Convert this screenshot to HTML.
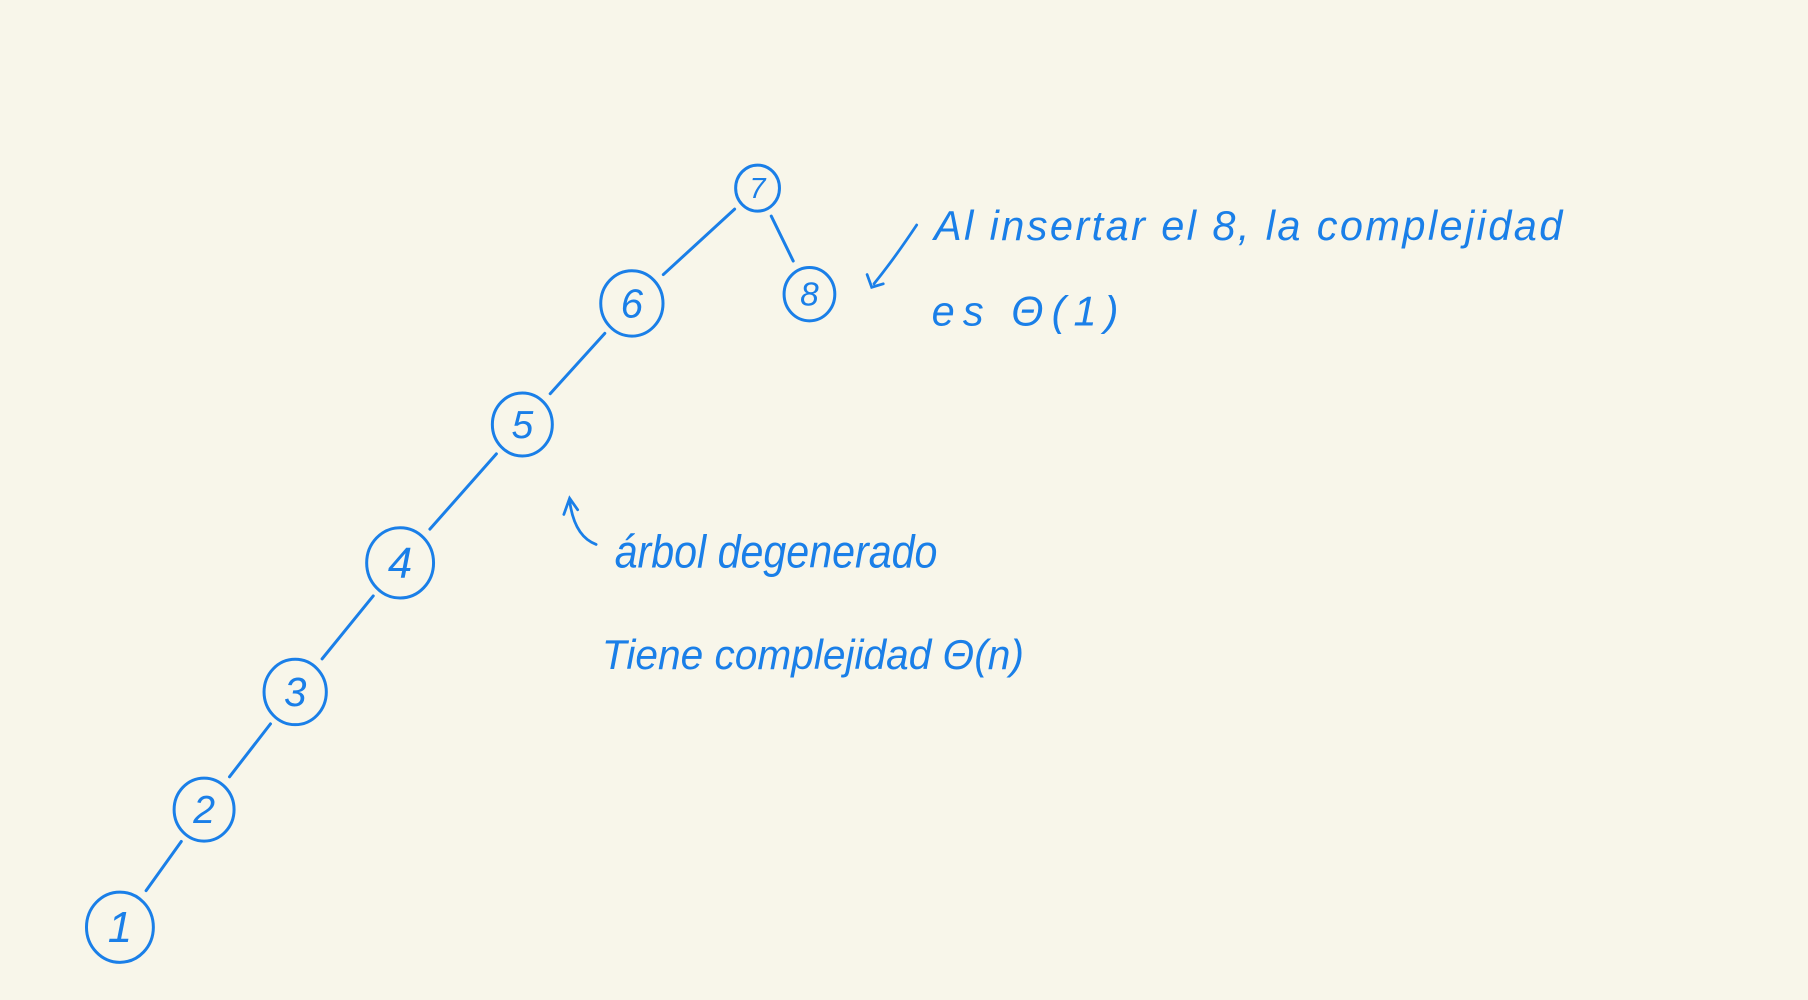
<!DOCTYPE html>
<html><head><meta charset="utf-8">
<style>
html,body{margin:0;padding:0;background:#f8f6ea;}
svg{display:block;}
text{font-family:"Liberation Sans",sans-serif;fill:#1a7fe8;font-style:italic;}
</style></head>
<body>
<svg width="1808" height="1000" viewBox="0 0 1568 867">
<rect width="1568" height="867" fill="#f8f6ea"/>
<g id="tree" stroke="#1a7fe8" stroke-width="2.6" fill="none" stroke-linecap="round"></g>
<g>
<path d="M795 195 Q775 225 758 246 M752 238 L756 249 L766 246" stroke="#1a7fe8" stroke-width="2.4" fill="none" stroke-linecap="round"/>
<text x="810" y="208" font-size="36" textLength="545" lengthAdjust="spacing">Al insertar el 8, la complejidad</text>
<text x="808" y="282" font-size="36" textLength="162" lengthAdjust="spacing">es Θ(1)</text>
<path d="M517 472 Q498 465 494 434 M489 446 L494 432 L501 442" stroke="#1a7fe8" stroke-width="2.4" fill="none" stroke-linecap="round"/>
<text x="533" y="492" font-size="40" textLength="280" lengthAdjust="spacingAndGlyphs">árbol degenerado</text>
<text x="522" y="580" font-size="36" textLength="366" lengthAdjust="spacingAndGlyphs">Tiene complejidad Θ(n)</text>
</g>
</svg>
<script>
const labels=["7","8","6","5","4","3","2","1"];
const cx=[657,702,548,453,347,256,177,104];
const cy=[163,255,263,368,488,600,702,804];
const radii=[19,22,27,26,29,27,26,29];
const parents=[-1,0,0,2,3,4,5,6];
const g=document.getElementById('tree');
const NS='http://www.w3.org/2000/svg';
for(let i=0;i<labels.length;i++){
  const p=parents[i];
  if(p>=0){
    const dx=cx[i]-cx[p],dy=cy[i]-cy[p],d=Math.hypot(dx,dy);
    const l=document.createElementNS(NS,'line');
    l.setAttribute('x1',cx[p]+dx/d*(radii[p]+8));
    l.setAttribute('y1',cy[p]+dy/d*(radii[p]+8));
    l.setAttribute('x2',cx[i]-dx/d*(radii[i]+10));
    l.setAttribute('y2',cy[i]-dy/d*(radii[i]+10));
    
    
    g.appendChild(l);
  }
  const c=document.createElementNS(NS,'ellipse');
  c.setAttribute('cx',cx[i]);c.setAttribute('cy',cy[i]);
  c.setAttribute('rx',radii[i]);c.setAttribute('ry',radii[i]*1.05);
  
  
  g.appendChild(c);
  const t=document.createElementNS(NS,'text');
  t.setAttribute('x',cx[i]);t.setAttribute('y',cy[i]+radii[i]*0.45);
  t.setAttribute('text-anchor','middle');
  t.setAttribute('font-size',Math.round(radii[i]*1.3));
  t.setAttribute('stroke','none');
  t.textContent=labels[i];
  
  
  g.appendChild(t);
}
</script>
</body></html>
